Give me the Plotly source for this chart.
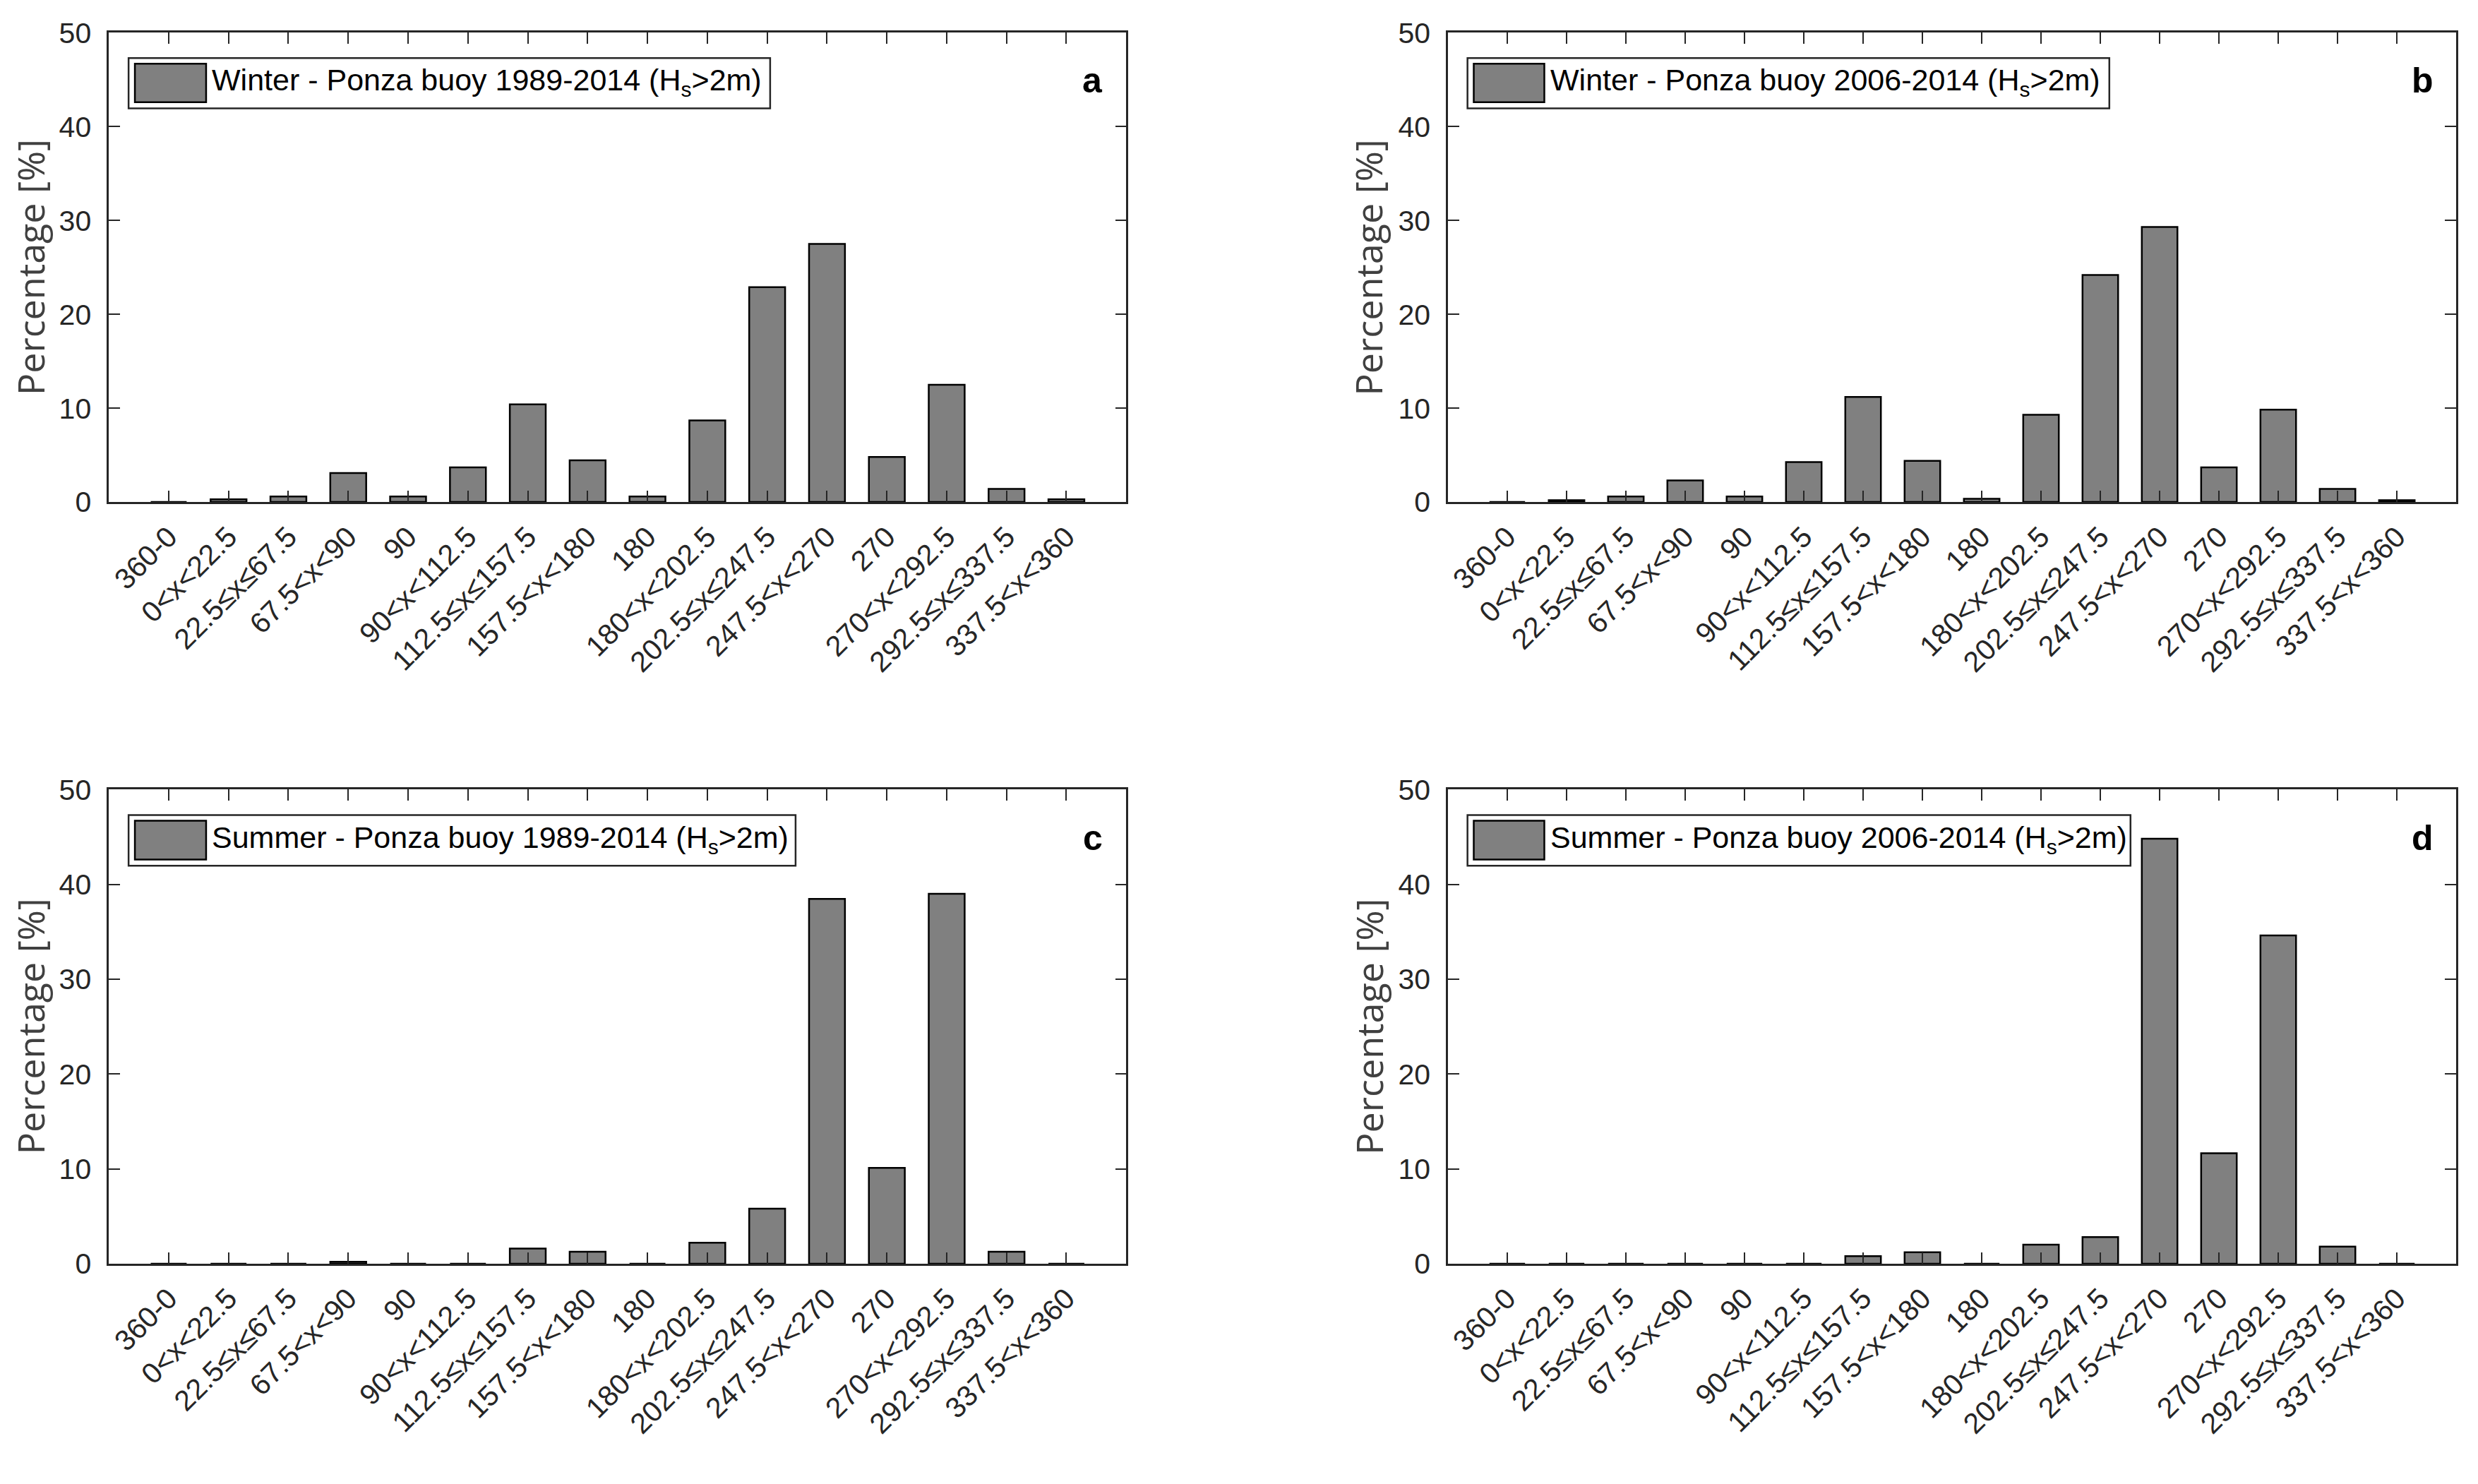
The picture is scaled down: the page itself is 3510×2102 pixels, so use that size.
import plotly.graph_objects as go

W, H = 3510, 2102

categories = ["360-0", "0<x<22.5", "22.5≤x≤67.5", "67.5<x<90", "90", "90<x<112.5",
              "112.5≤x≤157.5", "157.5<x<180", "180", "180<x<202.5", "202.5≤x≤247.5",
              "247.5<x<270", "270", "270<x<292.5", "292.5≤x≤337.5", "337.5<x<360"]

winter_1989_2014 = [0, 0.3, 0.6, 3.1, 0.6, 3.7, 10.4, 4.45, 0.6, 8.7, 22.9, 27.5, 4.8, 12.5, 1.4, 0.3]
winter_2006_2014 = [0, 0.2, 0.6, 2.3, 0.6, 4.25, 11.2, 4.4, 0.35, 9.3, 24.2, 29.3, 3.7, 9.85, 1.4, 0.2]
summer_1989_2014 = [0, 0, 0, 0.2, 0, 0, 1.6, 1.25, 0, 2.2, 5.8, 38.45, 10.1, 39.0, 1.25, 0]
summer_2006_2014 = [0, 0, 0, 0, 0, 0, 0.8, 1.2, 0, 2.0, 2.8, 44.8, 11.65, 34.6, 1.8, 0]

legend_labels = ["Winter - Ponza buoy 1989-2014 (H<sub>s</sub>&gt;2m)",
                 "Winter - Ponza buoy 2006-2014 (H<sub>s</sub>&gt;2m)",
                 "Summer - Ponza buoy 1989-2014 (H<sub>s</sub>&gt;2m)",
                 "Summer - Ponza buoy 2006-2014 (H<sub>s</sub>&gt;2m)"]
panel_letters = ["a", "b", "c", "d"]
y_ticks = [0, 10, 20, 30, 40, 50]
y_title = "Percentage [%]"

series = [winter_1989_2014, winter_2006_2014, summer_1989_2014, summer_2006_2014]

# layout geometry (paper fractions)
x_domains = [[0.0411, 0.4519], [0.5818, 0.9889]]
y_domains = [[0.6692, 0.9925], [0.1445, 0.4712]]
legend_box_right = [0.650, 0.656, 0.675, 0.677]
ytitle_x = [0.0092, 0.5495]

sans = "Liberation Sans, Arial, sans-serif"
tick_font = dict(family=sans, size=41, color="#262626")
tick_text = [c.replace("<", "&lt;") for c in categories]

fig = go.Figure()
annotations = []
shapes = []

for i, vals in enumerate(series):
    row, col = divmod(i, 2)
    n = "" if i == 0 else str(i + 1)
    xa, ya = "x" + n, "y" + n
    fig.add_trace(go.Bar(
        x=categories, y=vals, xaxis=xa, yaxis=ya,
        width=0.6, marker=dict(color="#808080", line=dict(color="#000000", width=2.5)),
        showlegend=False, name=legend_labels[i],
    ))
    axis_common = dict(showline=True, linecolor="#262626", linewidth=2.5, mirror="ticks",
                       ticks="inside", tickcolor="#262626", tickwidth=2, showgrid=False,
                       zeroline=False, tickfont=tick_font)
    fig.update_layout(**{
        ("xaxis" + n): dict(domain=x_domains[col], anchor=ya, type="category",
                            range=[-1, 16], tickvals=categories, ticktext=tick_text,
                            tickangle=-45, ticklen=16, ticklabelstandoff=6, **axis_common),
        ("yaxis" + n): dict(domain=y_domains[row], anchor=xa, range=[0, 50],
                            tickvals=y_ticks, ticklen=16, ticklabelstandoff=14,
                            **axis_common),
    })
    xd, yd = xa + " domain", ya + " domain"
    # legend box
    shapes.append(dict(type="rect", xref=xd, yref=yd, x0=0.0194, x1=legend_box_right[i],
                       y0=0.839, y1=0.946, line=dict(color="#262626", width=2.5),
                       fillcolor="white", layer="above"))
    shapes.append(dict(type="rect", xref=xd, yref=yd, x0=0.0256, x1=0.0956,
                       y0=0.852, y1=0.934, line=dict(color="#000000", width=2.5),
                       fillcolor="#808080", layer="above"))
    annotations.append(dict(xref=xd, yref=yd, x=0.1000, y=0.895, xanchor="left",
                            yanchor="middle", showarrow=False, text=legend_labels[i],
                            font=dict(family=sans, size=43, color="#000000")))
    annotations.append(dict(xref=xd, yref=yd, x=0.967, y=0.898, xanchor="center",
                            yanchor="middle", showarrow=False,
                            text="<b>" + panel_letters[i] + "</b>",
                            font=dict(family=sans, size=50, color="#000000")))
    annotations.append(dict(xref="paper", yref=yd, x=ytitle_x[col], y=0.5,
                            xanchor="center", yanchor="middle", textangle=-90,
                            showarrow=False, text=y_title,
                            font=dict(family="Open Sans, Noto Sans, sans-serif",
                                      size=52, color="#404040")))

fig.update_layout(width=W, height=H, margin=dict(l=0, r=0, t=0, b=0),
                  paper_bgcolor="white", plot_bgcolor="white", bargap=0.4,
                  annotations=annotations, shapes=shapes)

fig.write_html("out.html")
